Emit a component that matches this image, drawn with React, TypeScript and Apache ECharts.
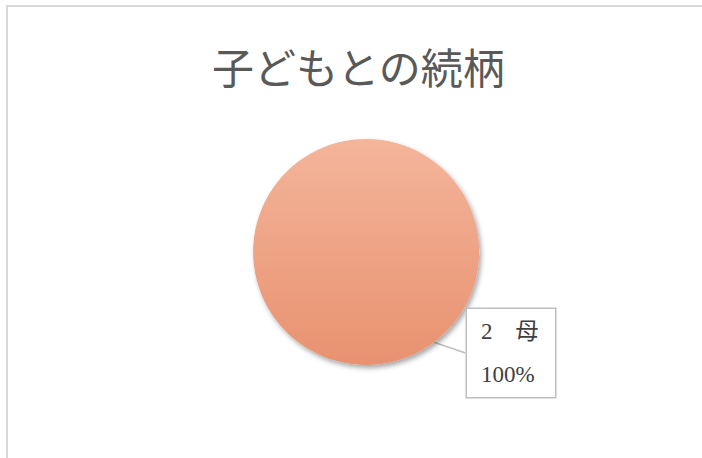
import React, { useEffect, useRef } from "react";
import * as echarts from "echarts";

const titleText = "子どもとの続柄";
const categories = ["2　母"];
const values = [1];

export default function App() {
  const ref = useRef<HTMLDivElement>(null);
  useEffect(() => {
    if (!ref.current) return;
    const chart = echarts.init(ref.current, undefined, { renderer: "svg" });
    chart.setOption({
      animation: false,
      backgroundColor: "#ffffff",
      graphic: [
        {
          type: "rect",
          shape: { x: 7, y: 6, width: 760, height: 520 },
          style: { fill: "none", stroke: "#d9d9d9", lineWidth: 2 },
          silent: true,
        },
      ],
      title: {
        text: titleText,
        left: 207,
        top: 39,
        textStyle: {
          fontFamily: "'Noto Sans CJK JP', sans-serif",
          fontWeight: "normal",
          fontSize: 42,
          color: "#595959",
        },
      },
      series: [
        {
          type: "pie",
          center: [366, 252],
          radius: [0, 113],
          startAngle: 127,
          avoidLabelOverlap: false,
          data: categories.map((c, i) => ({ name: c, value: values[i] })),
          itemStyle: {
            color: new echarts.graphic.LinearGradient(0, 0, 0, 1, [
              { offset: 0, color: "#F4B59B" },
              { offset: 1, color: "#E8926F" },
            ]),
            shadowBlur: 5,
            shadowOffsetX: 2,
            shadowOffsetY: 3,
            shadowColor: "rgba(0,0,0,0.35)",
          },
          emphasis: { disabled: true },
          label: {
            show: true,
            position: "outside",
            formatter: "{b}\n{d}%",
            fontFamily: "'Liberation Serif', 'Noto Sans CJK JP', serif",
            fontSize: 23,
            lineHeight: 43,
            color: "#404040",
            backgroundColor: "#ffffff",
            borderColor: "#bfbfbf",
            borderWidth: 1.5,
            width: 60,
            padding: [1, 14, 1, 14],
            align: "left",
          },
          labelLine: {
            show: true,
            length: 8,
            length2: 0,
            lineStyle: { color: "#bfbfbf", width: 1.5 },
          },
          labelLayout: () => ({
            x: 467,
            y: 309,
            align: "left",
            verticalAlign: "top",
          }),
        },
      ],
    });
    return () => chart.dispose();
  }, []);
  return (
    <div
      ref={ref}
      style={{ position: "fixed", left: 0, top: 0, width: 702, height: 458 }}
    />
  );
}
